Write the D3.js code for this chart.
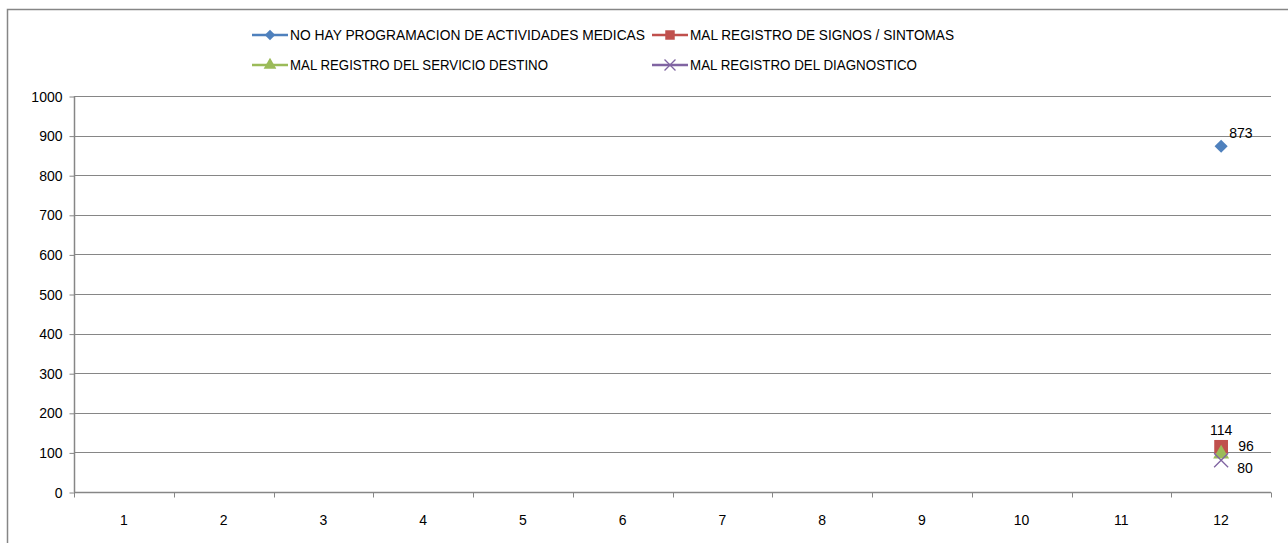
<!DOCTYPE html>
<html>
<head>
<meta charset="utf-8">
<script src="https://cdn.jsdelivr.net/npm/d3@7"></script>
<style>
body { margin: 0; background: #fff; }
svg { display: block; font-family: "Liberation Sans", Arial, sans-serif; }
</style>
</head>
<body>
<div id="chart"></div>
<script>
const categories = [1, 2, 3, 4, 5, 6, 7, 8, 9, 10, 11, 12];
const seriesNames = [
	"NO HAY PROGRAMACION DE ACTIVIDADES  MEDICAS",
	"MAL REGISTRO  DE SIGNOS / SINTOMAS",
	"MAL REGISTRO  DEL SERVICIO  DESTINO",
	"MAL REGISTRO  DEL DIAGNOSTICO"
];
const programacion = [null, null, null, null, null, null, null, null, null, null, null, 873];
const signos = [null, null, null, null, null, null, null, null, null, null, null, 114];
const servicio = [null, null, null, null, null, null, null, null, null, null, null, 96];
const diagnostico = [null, null, null, null, null, null, null, null, null, null, null, 80];
const yTicks = [0, 100, 200, 300, 400, 500, 600, 700, 800, 900, 1000];

const colors = ["#4F81BD", "#C0504D", "#9BBB59", "#8064A2"];
const shapes = ["diamond", "square", "triangle", "x"];
const series = [programacion, signos, servicio, diagnostico].map((vals, i) => ({
	name: seriesNames[i], values: vals, color: colors[i], shape: shapes[i]
}));

const width = 1288, height = 543;
const svg = d3.select("#chart").append("svg").attr("width", width).attr("height", height);

// outer chart border
svg.append("rect")
	.attr("x", 7.5).attr("y", 9.5)
	.attr("width", 1300).attr("height", 560)
	.style("fill", "none").style("stroke", "#868686").style("stroke-width", 1.5)

const plot = { left: 74, right: 1271, top: 96, bottom: 492 };
const xs = d3.scaleBand().domain(categories).range([plot.left, plot.right]);
const ys = d3.scaleLinear().domain([0, 1000]).range([plot.bottom, plot.top]);

// gridlines
svg.append("g").selectAll("line")
	.data(yTicks.filter(d => d > 0)).enter().append("line")
		.attr("x1", plot.left).attr("x2", plot.right)
		.attr("y1", d => Math.round(ys(d)) + 0.5).attr("y2", d => Math.round(ys(d)) + 0.5)
		.style("stroke", "#868686").style("stroke-width", 1)

// y axis
const yAxis = svg.append("g")
	.attr("transform", "translate(" + (plot.left + 0.5) + ",0)")
	.call(d3.axisLeft(ys).tickValues(yTicks).tickSize(5).tickPadding(7).tickFormat(d3.format("d")));
yAxis.select(".domain").attr("d", "M0," + plot.top + "V" + plot.bottom).style("stroke", "#868686").style("stroke-width", 1.5);
yAxis.selectAll(".tick line").style("stroke", "#868686").attr("transform", "translate(0,0.5)");
yAxis.selectAll("text").style("font-size", "14px").style("fill", "#000").attr("dy", "0.36em");

// x axis
const xAxis = svg.append("g").attr("transform", "translate(0," + (plot.bottom + 0.5) + ")");
xAxis.append("line")
	.attr("x1", plot.left).attr("x2", plot.right)
	.style("stroke", "#868686").style("stroke-width", 1.5)
xAxis.selectAll(".xtick")
	.data(categories.concat(["end"])).enter().append("line")
		.attr("x1", (d, i) => Math.round(plot.left + i * xs.step()) + 0.5)
		.attr("x2", (d, i) => Math.round(plot.left + i * xs.step()) + 0.5)
		.attr("y1", 0).attr("y2", 5)
		.style("stroke", "#868686")
xAxis.selectAll("text")
	.data(categories).enter().append("text")
		.attr("x", d => xs(d) + xs.bandwidth() / 2)
		.attr("y", 32)
		.attr("text-anchor", "middle")
		.style("font-size", "14px")
		.text(d => d)

function symbolPath(shape, size) {
	if (shape === "diamond") return d3.symbol(d3.symbolDiamond2, size)();
	if (shape === "square") return d3.symbol(d3.symbolSquare, size)();
	if (shape === "triangle") return d3.symbol(d3.symbolTriangle, size)();
	return d3.symbol(d3.symbolX, size)();
}
const markerSize = { diamond: 110, square: 190, triangle: 110, x: 130 };
const legendSize = { diamond: 70, square: 90, triangle: 70, x: 80 };

// lines + markers
series.forEach(s => {
	const pts = categories.map((c, i) => ({ c: c, v: s.values[i] }));
	svg.append("path")
		.datum(pts)
		.style("fill", "none").style("stroke", s.color).style("stroke-width", 2.5)
		.attr("d", d3.line().defined(d => d.v !== null)
			.x(d => xs(d.c) + xs.bandwidth() / 2)
			.y(d => ys(d.v)));
	const g = svg.append("g");
	g.selectAll("path")
		.data(pts.filter(d => d.v !== null)).enter().append("path")
			.attr("transform", d => "translate(" + (xs(d.c) + xs.bandwidth() / 2) + "," + ys(d.v) + ")")
			.attr("d", symbolPath(s.shape, markerSize[s.shape]))
			.style("fill", s.shape === "x" ? "none" : s.color)
			.style("stroke", s.color)
			.style("stroke-width", s.shape === "x" ? 1.3 : 0)
});

// data labels
const labelOffsets = [[8, -13, "start"], [0, -17, "middle"], [17, -8, "start"], [16, 8, "start"]];
series.forEach((s, si) => {
	categories.forEach((c, i) => {
		if (s.values[i] === null) return;
		svg.append("text")
			.attr("x", xs(c) + xs.bandwidth() / 2 + labelOffsets[si][0])
			.attr("y", ys(s.values[i]) + labelOffsets[si][1])
			.attr("dy", "0.36em")
			.attr("text-anchor", labelOffsets[si][2])
			.style("font-size", "14px")
			.text(s.values[i])
	})
});

// legend
const legendPos = [[252, 35], [652, 35], [252, 65], [652, 65]];
const legendWidths = [355, 264, 258, 227];
series.forEach((s, i) => {
	const g = svg.append("g").attr("transform", "translate(" + legendPos[i][0] + "," + legendPos[i][1] + ")");
	g.append("line").attr("x1", 0).attr("x2", 36).attr("y1", 0).attr("y2", 0)
		.style("stroke", s.color).style("stroke-width", 2.5)
	g.append("path")
		.attr("transform", "translate(18,0)")
		.attr("d", symbolPath(s.shape, legendSize[s.shape]))
		.style("fill", s.shape === "x" ? "none" : s.color)
		.style("stroke", s.color)
		.style("stroke-width", s.shape === "x" ? 1.3 : 0)
	g.append("text")
		.attr("x", 38).attr("y", 0).attr("dy", "0.36em")
		.attr("textLength", legendWidths[i]).attr("lengthAdjust", "spacingAndGlyphs")
		.style("font-size", "14px")
		.text(s.name)
});
</script>
</body>
</html>
